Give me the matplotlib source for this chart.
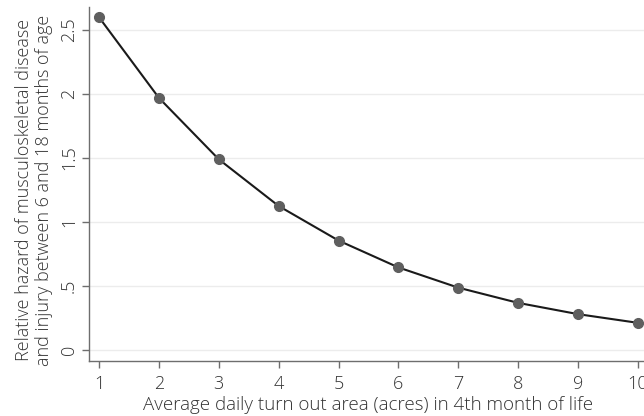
import matplotlib
matplotlib.use("Agg")
import matplotlib.pyplot as plt

acres = [1, 2, 3, 4, 5, 6, 7, 8, 9, 10]
hazard = [2.60, 1.97, 1.49, 1.125, 0.855, 0.645, 0.487, 0.368, 0.28, 0.212]
yticks = [0, 0.5, 1, 1.5, 2, 2.5]
ytick_labels = ["0", ".5", "1", "1.5", "2", "2.5"]

plt.rcParams['font.family'] = ['Open Sans', 'DejaVu Sans']
plt.rcParams['font.weight'] = 'light'

fig = plt.figure(figsize=(6.44, 4.16), dpi=100)
ax = fig.add_axes([89/644, 55/416, 1 - 89/644, (361-7)/416])

ax.plot(acres, hazard, color='#1a1a1a', lw=1.5, zorder=3)
ax.plot(acres, hazard, 'o', color='#5f5f5f', ms=7, zorder=4)

ax.set_xlim(0.833, 10.1)
ax.set_ylim(-0.086, 2.68)
ax.set_xticks(acres)
ax.set_xticklabels([str(a) for a in acres])
ax.set_yticks(yticks)
ax.set_yticklabels(ytick_labels, rotation=90, va='center')

for y in yticks:
    ax.axhline(y, color='#ececec', lw=1.0, zorder=1)

for s in ['top', 'right']:
    ax.spines[s].set_visible(False)
for s in ['left', 'bottom']:
    ax.spines[s].set_color('#6e6e6e')
    ax.spines[s].set_linewidth(1.0)

ax.tick_params(axis='x', direction='out', length=5, width=1, color='#6e6e6e',
               labelsize=13, labelcolor='#333333', pad=5)
ax.tick_params(axis='y', direction='out', length=5, width=1, color='#6e6e6e',
               labelsize=13, labelcolor='#333333', pad=3)
for lab in ax.get_xticklabels() + ax.get_yticklabels():
    lab.set_fontweight('light')

ax.set_xlabel("Average daily turn out area (acres) in 4th month of life",
              fontsize=13.5, color='#333333', fontweight='light')
ax.xaxis.set_label_coords(0.503, -0.10)
ax.set_ylabel("Relative hazard of musculoskeletal disease\nand injury between 6 and 18 months of age",
              fontsize=13, color='#333333', linespacing=1.15, fontweight='light')
ax.yaxis.set_label_coords(-0.065, 0.483)

fig.savefig("out.png", dpi=100)
